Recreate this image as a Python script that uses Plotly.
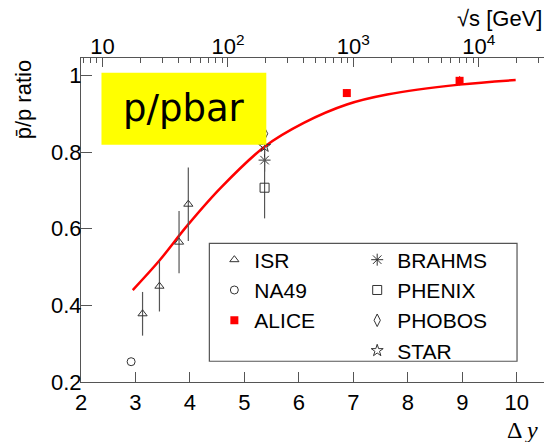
import plotly.graph_objects as go
import math

# ---------------- data ----------------
isr_dy = [3.13, 3.44, 3.80, 3.97]
isr_r = [0.378, 0.450, 0.565, 0.664]
isr_err = [0.057, 0.066, 0.081, 0.096]

na49_dy = [2.92]
na49_r = [0.253]

alice_dy = [6.88, 8.95]
alice_r = [0.954, 0.986]
alice_err = [0.010, 0.012]

brahms_dy = [5.37]
brahms_r = [0.779]
brahms_err = [0.03]

phenix_dy = [5.37]
phenix_r = [0.707]
phenix_err = [0.080]

phobos_dy = [5.37]
phobos_r = [0.848]
phobos_err = [0.02]

star_dy = [5.37]
star_r = [0.815]
star_err = [0.02]

curve_dy = [2.95, 3.44, 3.95, 4.56, 5.37, 6.09, 6.88, 7.62, 8.95, 9.98]
curve_r = [0.440, 0.517, 0.608, 0.706, 0.814, 0.876, 0.924, 0.950, 0.976, 0.988]

x_ticks = [2, 3, 4, 5, 6, 7, 8, 9, 10]
y_ticks = [0.2, 0.4, 0.6, 0.8, 1.0]
y_ticktext = ["0.2", "0.4", "0.6", "0.8", "1"]
top_major = [10, 100, 1000, 10000]
top_minor = [7, 8, 9, 20, 30, 40, 50, 60, 70, 80, 90,
             200, 300, 400, 500, 600, 700, 800, 900,
             2000, 3000, 4000, 5000, 6000, 7000, 8000, 9000, 20000, 30000]

# ---------------- geometry ----------------
W, H = 544, 442
ML, MR, MT, MB = 80.5, 0, 58.3, 60.3
PW = W - ML - MR
PH = H - MT - MB
XR = [2, 10.5]
YR = [0.2, 1.0455]
# top axis: sqrt(s) with  dy = ln(sqrt(s)/m),  10^3 GeV at dy = 7
m = 1000 / math.exp(7)
X2R = [math.log10(m * math.exp(XR[0])), math.log10(m * math.exp(XR[1]))]


def px(xp):
    return (xp - ML) / PW


def py(yp):
    return (H - MB - yp) / PH


AX = "#555555"
MK = "#333333"
FONT = "Liberation Sans, Arial, sans-serif"

fig = go.Figure()

eb = dict(type="data", thickness=1.2, width=0, color="#555555")

fig.add_trace(go.Scatter(
    x=curve_dy, y=curve_r, mode="lines", line=dict(color="#ff0000", width=2.5, shape="spline"),
    showlegend=False, hoverinfo="skip"))

fig.add_trace(go.Scatter(
    x=isr_dy, y=isr_r, mode="markers", name="ISR", legend="legend",
    error_y=dict(array=isr_err, **eb),
    marker=dict(symbol="triangle-up-open", size=8, color=MK, line=dict(width=1, color=MK))))

fig.add_trace(go.Scatter(
    x=na49_dy, y=na49_r, mode="markers", name="NA49", legend="legend",
    marker=dict(symbol="circle-open", size=8, color=MK, line=dict(width=1, color=MK))))

fig.add_trace(go.Scatter(
    x=alice_dy, y=alice_r, mode="markers", name="ALICE", legend="legend",
    error_y=dict(array=alice_err, type="data", thickness=1.2, width=0, color="#ff0000"),
    marker=dict(symbol="square", size=8, color="#ff0000")))

fig.add_trace(go.Scatter(
    x=brahms_dy, y=brahms_r, mode="markers", name="BRAHMS", legend="legend2",
    error_y=dict(array=brahms_err, **eb),
    marker=dict(symbol="asterisk-open", size=10, color=MK, line=dict(width=1, color=MK))))

fig.add_trace(go.Scatter(
    x=phenix_dy, y=phenix_r, mode="markers", name="PHENIX", legend="legend2",
    error_y=dict(array=phenix_err, **eb),
    marker=dict(symbol="square-open", size=9, color=MK, line=dict(width=1, color=MK))))

fig.add_trace(go.Scatter(
    x=phobos_dy, y=phobos_r, mode="markers", name="PHOBOS", legend="legend2",
    error_y=dict(array=phobos_err, **eb),
    marker=dict(symbol="diamond-tall-open", size=9, color=MK, line=dict(width=1, color=MK))))

fig.add_trace(go.Scatter(
    x=star_dy, y=star_r, mode="markers", name="STAR", legend="legend2",
    error_y=dict(array=star_err, **eb),
    marker=dict(symbol="star-open", size=9, color=MK, line=dict(width=1, color=MK))))

# trace that activates the top sqrt(s) axis
fig.add_trace(go.Scatter(x=[], y=[], xaxis="x2", yaxis="y", showlegend=False, hoverinfo="skip"))

leg_common = dict(
    yanchor="top", xanchor="left", bgcolor="rgba(0,0,0,0)", borderwidth=0,
    font=dict(family=FONT, size=21, color="black"), traceorder="normal",
    orientation="v", itemsizing="trace")

fig.update_layout(
    width=W, height=H,
    margin=dict(l=ML, r=MR, t=MT, b=MB, pad=0, autoexpand=False),
    paper_bgcolor="white", plot_bgcolor="white",
    font=dict(family=FONT, size=21, color="black"),
    showlegend=True,
    legend=dict(x=px(214), y=py(239.5), **leg_common),
    legend2=dict(x=px(357), y=py(239.5), **leg_common),
    xaxis=dict(
        range=XR, tickmode="array", tickvals=x_ticks, ticktext=[str(v) for v in x_ticks],
        ticks="inside", ticklen=10, tickwidth=1, tickcolor=AX,
        showline=True, linecolor=AX, linewidth=1.2, showgrid=False, zeroline=False,
        tickfont=dict(family=FONT, size=22, color="black")),
    xaxis2=dict(
        type="log", range=X2R, overlaying="x", side="top", anchor="y",
        tickmode="array", tickvals=top_major, ticktext=["10", "10<sup>2</sup>", "10<sup>3</sup>", "10<sup>4</sup>"],
        ticks="inside", ticklen=9, tickwidth=1, tickcolor=AX, ticklabelstandoff=-6,
        minor=dict(tickmode="array", tickvals=top_minor, ticks="inside", ticklen=5,
                   tickwidth=1, tickcolor=AX, showgrid=False),
        showline=True, linecolor=AX, linewidth=1.2, showgrid=False, zeroline=False,
        tickfont=dict(family=FONT, size=22, color="black")),
    yaxis=dict(
        range=YR, tickmode="array", tickvals=y_ticks, ticktext=y_ticktext,
        ticks="inside", ticklen=11, tickwidth=1, tickcolor=AX, ticklabelstandoff=-6,
        showline=True, linecolor=AX, linewidth=1.2, showgrid=False, zeroline=False,
        tickfont=dict(family=FONT, size=22, color="black")),
)

# legend frame
fig.add_shape(type="rect", xref="paper", yref="paper",
              x0=px(209), x1=px(517), y0=py(361), y1=py(243.3),
              fillcolor="white", line=dict(width=1.2, color="#555555"), layer="above")

# yellow label box
fig.add_shape(type="rect", xref="paper", yref="paper",
              x0=px(101), x1=px(266), y0=py(145), y1=py(73),
              fillcolor="#ffff00", line=dict(width=0), layer="above")
fig.add_annotation(text="p/pbar", xref="paper", yref="paper",
                   x=px(183.5), y=py(109), xanchor="center", yanchor="middle", showarrow=False,
                   font=dict(family="DejaVu Sans, Verdana, sans-serif", size=37, color="black"))

# y-axis title (top aligned)
fig.add_annotation(text="p\u0304/p ratio", xref="paper", yref="paper",
                   x=px(23), y=py(100), xanchor="center", yanchor="middle", textangle=-90,
                   showarrow=False, font=dict(family=FONT, size=22, color="black"))

# top axis title
fig.add_annotation(text="\u221As [GeV]", xref="paper", yref="paper",
                   x=px(544), y=py(19), xanchor="right", yanchor="middle",
                   showarrow=False, font=dict(family=FONT, size=22, color="black"))

# bottom axis title
fig.add_annotation(text="\u0394 <i>y</i>", xref="paper", yref="paper",
                   x=px(540), y=py(430), xanchor="right", yanchor="middle",
                   showarrow=False, font=dict(family="Liberation Serif, Times New Roman, serif", size=24, color="black"))

fig.write_html("out.html")
